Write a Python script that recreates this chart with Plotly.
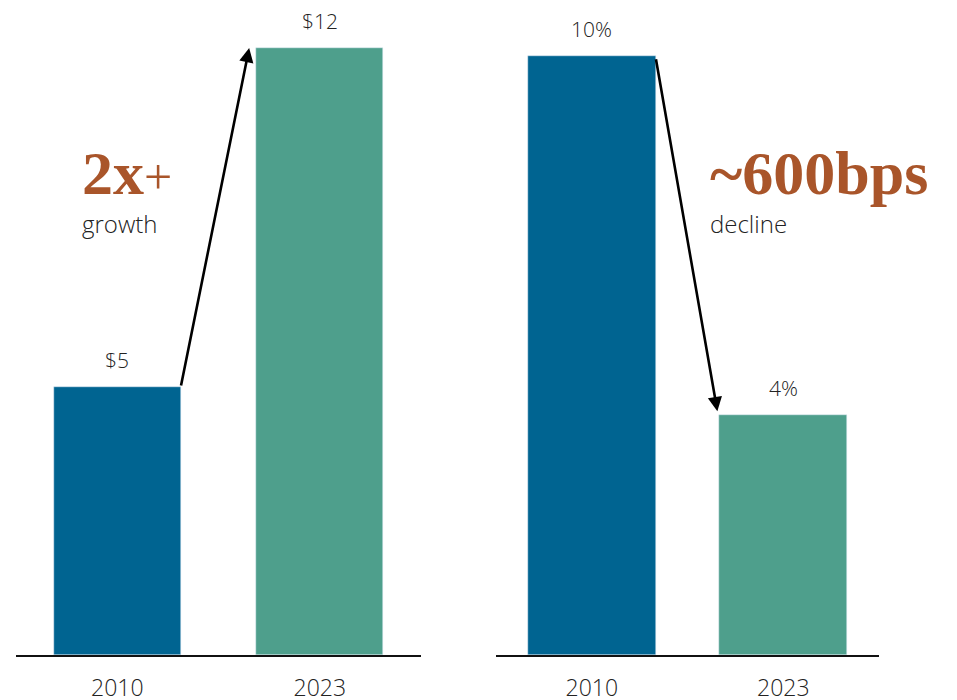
import plotly.graph_objects as go
from plotly.subplots import make_subplots

years = ["2010", "2023"]
spend = [5.3, 12.0]
spend_labels = ["$5", "$12"]
share = [10.0, 4.0]
share_labels = ["10%", "4%"]

BLUE = "#006491"
TEAL = "#4E9F8C"
RUST = "#A9552A"
INK = "#222222"

# page body adds an 8px margin; year labels run off the bottom edge as in the source
W, H = 941, 700

fig = make_subplots(rows=1, cols=2)

w_left = 0.627
w_right = 0.668

fig.add_trace(go.Bar(x=years, y=spend, marker_color=[BLUE, TEAL], width=w_left,
                     hoverinfo="skip"), row=1, col=1)
fig.add_trace(go.Bar(x=years, y=share, marker_color=[BLUE, TEAL], width=w_right,
                     hoverinfo="skip"), row=1, col=2)

label_font = dict(family="Open Sans", size=21, color=INK, weight=300)
note_font = dict(family="Open Sans", size=24, color=INK, weight=300)

# value labels above the bars
for xr, yr, vals, labels in [("x", "y", spend, spend_labels), ("x2", "y2", share, share_labels)]:
    for i, (v, t) in enumerate(zip(vals, labels)):
        fig.add_annotation(x=i, y=v, xref=xr, yref=yr, text=t, showarrow=False,
                           yanchor="bottom", yshift=11, font=label_font)

# arrows between bar tops
fig.add_annotation(xref="x", yref="y", axref="x", ayref="y",
                   x=1 - w_left / 2 - 0.035, y=spend[1],
                   ax=w_left / 2, ay=spend[0],
                   showarrow=True, arrowhead=2, arrowsize=1.1, arrowwidth=2.6,
                   arrowcolor="black", text="")
fig.add_annotation(xref="x2", yref="y2", axref="x2", ayref="y2",
                   x=1 - w_right / 2 - 0.01, y=share[1] + 0.07,
                   ax=w_right / 2, ay=share[0] - 0.03,
                   showarrow=True, arrowhead=2, arrowsize=1.1, arrowwidth=2.6,
                   arrowcolor="black", text="")

big_font = dict(family="Liberation Serif", size=62, color=RUST)
fig.add_annotation(xref="paper", yref="paper", x=72 / W, y=1 - 165 / H,
                   xanchor="left", yanchor="middle", showarrow=False,
                   text="<b>2x</b><span style='font-size:50px'>+</span>", font=big_font)
fig.add_annotation(xref="paper", yref="paper", x=72 / W, y=1 - 215 / H,
                   xanchor="left", yanchor="middle", showarrow=False,
                   text="growth", font=note_font)
fig.add_annotation(xref="paper", yref="paper", x=700 / W, y=1 - 165 / H,
                   xanchor="left", yanchor="middle", showarrow=False,
                   text="<b>~600bps</b>", font=big_font)
fig.add_annotation(xref="paper", yref="paper", x=700 / W, y=1 - 215 / H,
                   xanchor="left", yanchor="middle", showarrow=False,
                   text="decline", font=note_font)

axis_common = dict(type="category", showgrid=False, zeroline=False, showline=True,
                   linecolor="#111111", linewidth=1.6, ticks="", automargin=False,
                   tickfont=dict(family="Open Sans", size=23, color=INK, weight=300),
                   ticklabelstandoff=12, fixedrange=True)

fig.update_xaxes(domain=[8 / W, 413 / W], **axis_common, row=1, col=1)
fig.update_xaxes(domain=[488 / W, 871 / W], **axis_common, row=1, col=2)

base_px = 647
base = 1 - base_px / H
fig.update_yaxes(domain=[base, 1], range=[0, 12 * base_px / 607], visible=False, row=1, col=1)
fig.update_yaxes(domain=[base, 1], range=[0, 10 * base_px / 599], visible=False, row=1, col=2)

fig.update_layout(width=W, height=H, margin=dict(l=0, r=0, t=0, b=0),
                  plot_bgcolor="white", paper_bgcolor="white", showlegend=False,
                  bargap=0)

fig.write_html("out.html")
